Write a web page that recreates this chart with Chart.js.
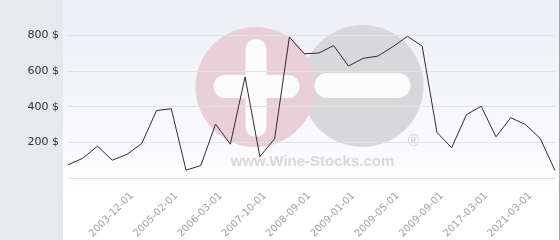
<!DOCTYPE html>
<html>
<head>
<meta charset="utf-8">
<script src="https://cdn.jsdelivr.net/npm/chart.js@4/dist/chart.umd.min.js"></script>
<style>
  html, body { margin: 0; padding: 0; background: #fff; }
  #wrap { width: 560px; height: 240px; }
</style>
</head>
<body>
<div id="wrap"><canvas id="priceChart"></canvas></div>
<script>
// price history, one point per listing date
const dates = [
    '2002-11-01', '2003-02-01', '2003-05-01', '2003-09-01', '2003-12-01',
    '2004-04-01', '2004-09-01', '2005-02-01', '2005-06-01', '2005-10-01',
    '2006-03-01', '2006-09-01', '2007-04-01', '2007-10-01', '2008-02-01',
    '2008-06-01', '2008-09-01', '2008-10-01', '2008-12-01', '2009-01-01',
    '2009-02-01', '2009-04-01', '2009-05-01', '2009-06-01', '2009-08-01',
    '2009-09-01', '2010-06-01', '2014-03-01', '2017-03-01', '2018-06-01',
    '2019-09-01', '2021-03-01', '2022-09-01', '2024-03-01'
];
const prices = [
    74, 111, 179, 100, 133, 194, 379, 389, 44, 70,
    303, 190, 568, 120, 220, 792, 698, 702, 744, 629,
    672, 685, 737, 796, 741, 256, 170, 356, 403, 231,
    339, 300, 222, 42
];
// dates printed under the axis
const shownDates = [
    '2003-12-01', '2005-02-01', '2006-03-01', '2007-10-01', '2008-09-01',
    '2009-01-01', '2009-05-01', '2009-09-01', '2017-03-01', '2021-03-01'
];
const yTicks = [200, 400, 600, 800];

// grey side panel, shaded plot background and the watermark
const backdrop = {
    id: 'backdrop',
    beforeDraw(chart) {
        const ctx = chart.ctx;
        const a = chart.chartArea;
        const h = chart.height;
        ctx.save();
        ctx.fillStyle = '#e6eaed';
        ctx.fillRect(0, 0, a.left - 5, h);
        const grad = ctx.createLinearGradient(0, 0, 0, h);
        grad.addColorStop(0, '#eceef4');
        grad.addColorStop(0.85, '#ffffff');
        ctx.fillStyle = grad;
        ctx.fillRect(a.left - 5, 0, a.right + 4 - (a.left - 5), h);
        ctx.fillStyle = '#a4a4a6';
        ctx.fillRect(a.right + 4, 0, 1, h);

        const cx = (a.left + a.right) / 2;
        const cy = 86;
        ctx.fillStyle = '#d8d8da';
        ctx.beginPath();
        ctx.arc(cx + 51, cy, 61, 0, Math.PI * 2);
        ctx.fill();
        ctx.fillStyle = '#e9d0d8';
        ctx.beginPath();
        ctx.arc(cx - 56, cy + 1, 60, 0, Math.PI * 2);
        ctx.fill();

        ctx.fillStyle = '#fbfbfc';
        ctx.beginPath();
        ctx.roundRect(cx - 66, cy - 47, 21, 98, 10.5);
        ctx.fill();
        ctx.beginPath();
        ctx.roundRect(cx - 98, cy - 11, 86, 23, 11.5);
        ctx.fill();
        ctx.beginPath();
        ctx.roundRect(cx + 3, cy - 13, 96, 25, 12.5);
        ctx.fill();

        ctx.fillStyle = '#d8d8da';
        ctx.font = 'bold 15px "Liberation Sans", Arial, sans-serif';
        ctx.textAlign = 'center';
        ctx.textBaseline = 'alphabetic';
        ctx.fillText('www.Wine-Stocks.com', cx + 1, 166);
        ctx.font = 'bold 16px "Liberation Sans", Arial, sans-serif';
        ctx.fillText('\u00AE', cx + 102, 146);
        ctx.restore();
    }
};

new Chart(document.getElementById('priceChart'), {
    type: 'line',
    data: {
        labels: dates,
        datasets: [{
            data: prices,
            borderColor: '#3a2530',
            borderWidth: 1,
            pointRadius: 0,
            tension: 0,
            fill: false
        }]
    },
    options: {
        responsive: true,
        maintainAspectRatio: false,
        animation: false,
        layout: { padding: { top: 0, right: 5, bottom: 0, left: 0 } },
        plugins: { legend: { display: false }, tooltip: { enabled: false } },
        scales: {
            x: {
                offset: false,
                grid: { display: false, drawTicks: false },
                border: { display: false },
                ticks: {
                    autoSkip: false,
                    minRotation: 45,
                    maxRotation: 45,
                    padding: 12,
                    labelOffset: 5,
                    color: '#a0a0a0',
                    font: { family: '"DejaVu Sans", Verdana, sans-serif', size: 10 },
                    callback: function (value, index) {
                        return shownDates.includes(dates[index]) ? dates[index] : '';
                    }
                },
                afterFit(scale) {
                    scale.height = 62;
                    scale.paddingLeft = 0;
                    scale.paddingRight = 0;
                }
            },
            y: {
                min: 0,
                max: 1000,
                grid: {
                    drawTicks: false,
                    color: ctx => ctx.tick && ctx.tick.value === 1000 ? 'rgba(0,0,0,0)' : '#dfe1e6',
                    lineWidth: 1
                },
                border: { display: false },
                ticks: {
                    stepSize: 200,
                    padding: 9,
                    color: '#333333',
                    font: { family: '"DejaVu Sans", Verdana, sans-serif', size: 11 },
                    callback: v => yTicks.includes(v) ? v + ' $' : ''
                },
                afterFit(scale) {
                    scale.width = 68;
                    scale.paddingTop = 0;
                    scale.paddingBottom = 0;
                }
            }
        }
    },
    plugins: [backdrop]
});
</script>
</body>
</html>
